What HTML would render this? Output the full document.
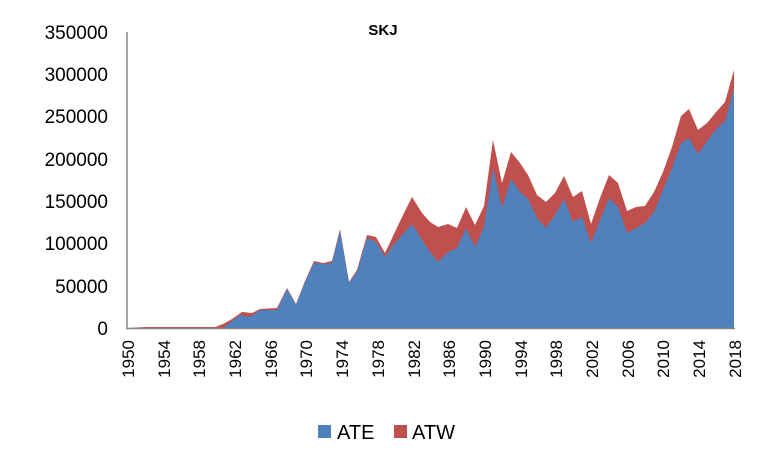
<!DOCTYPE html>
<html><head><style>body{margin:0;background:#fff}svg{display:block}text{font-family:"Liberation Sans",sans-serif}</style></head>
<body>
<svg width="770" height="465" viewBox="0 0 770 465">
<text x="383" y="35" font-size="15" font-weight="bold" text-anchor="middle">SKJ</text>
<g font-size="19" text-anchor="end" fill="#000">
<text x="108" y="335">0</text><text x="108" y="293">50000</text><text x="108" y="250">100000</text><text x="108" y="208">150000</text><text x="108" y="166">200000</text><text x="108" y="123">250000</text><text x="108" y="81">300000</text><text x="108" y="39">350000</text>
</g>
<polygon fill="#C0504D" points="127,328 145,327 215,327 223,324 232,319 242,312 252,313 260,309 277,308 287,288 296,304 305,281 314,261 323,263 332,261 340,229 349,282 357,270 367,235 376,237 385,253 394,234 403,215 412,197 422,213 430,222 438,227 448,224 457,228 466,207 475,225 484,206 493,140 502,183 511,152 520,163 528,175 537,195 546,202 555,193 564,176 573,197 582,191 591,224 600,198 609,175 618,183 627,211 636,207 645,206 654,192 663,172 672,147 681,116 689,109 698,130 707,123 717,111 725,102 734,70 734,328"/>
<polygon fill="#4F81BD" points="127,328 215,328 223,328 232,321 240,315 250,317 260,310 277,310 287,289 296,305 305,282 314,263 323,264 332,263 340,231 349,283 357,272 367,238 376,242 385,257 394,244 403,234 412,224 422,240 430,252 438,262 448,252 457,248 466,228 475,247 484,227 493,168 502,208 511,179 520,192 528,199 537,218 546,228 555,215 564,199 573,222 582,217 591,243 600,220 609,198 618,207 627,233 636,228 645,223 654,212 663,190 672,168 681,143 689,138 698,154 707,141 717,128 725,121 734,88 734,328"/>
<line x1="127" y1="32" x2="127" y2="329" stroke="#868686" stroke-width="1.5"/>
<line x1="126" y1="328.5" x2="735" y2="328.5" stroke="#868686" stroke-width="1.5"/>
<g font-size="17" text-anchor="end">
<text transform="translate(134,340) rotate(-90)">1950</text>
<text transform="translate(170,340) rotate(-90)">1954</text>
<text transform="translate(205,340) rotate(-90)">1958</text>
<text transform="translate(241,340) rotate(-90)">1962</text>
<text transform="translate(277,340) rotate(-90)">1966</text>
<text transform="translate(312,340) rotate(-90)">1970</text>
<text transform="translate(348,340) rotate(-90)">1974</text>
<text transform="translate(384,340) rotate(-90)">1978</text>
<text transform="translate(420,340) rotate(-90)">1982</text>
<text transform="translate(455,340) rotate(-90)">1986</text>
<text transform="translate(491,340) rotate(-90)">1990</text>
<text transform="translate(527,340) rotate(-90)">1994</text>
<text transform="translate(562,340) rotate(-90)">1998</text>
<text transform="translate(598,340) rotate(-90)">2002</text>
<text transform="translate(634,340) rotate(-90)">2006</text>
<text transform="translate(669,340) rotate(-90)">2010</text>
<text transform="translate(705,340) rotate(-90)">2014</text>
<text transform="translate(741,340) rotate(-90)">2018</text>
</g>
<rect x="318" y="425" width="13" height="13" fill="#4F81BD"/>
<text x="337" y="439" font-size="20">ATE</text>
<rect x="394" y="425" width="13" height="13" fill="#C0504D"/>
<text x="412" y="439" font-size="20">ATW</text>
</svg>
</body></html>
